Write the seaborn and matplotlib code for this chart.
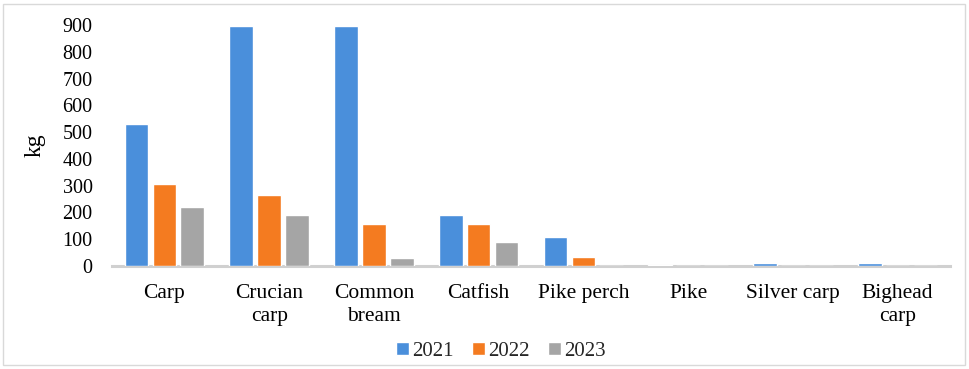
import matplotlib
matplotlib.use("Agg")
import matplotlib.pyplot as plt
import seaborn as sns
import pandas as pd
from matplotlib.patches import Rectangle

categories = ["Carp", "Crucian\ncarp", "Common\nbream", "Catfish", "Pike perch",
              "Pike", "Silver carp", "Bighead\ncarp"]
years = ["2021", "2022", "2023"]
values_2021 = [530, 895, 895, 190, 110, 3, 10, 10]
values_2022 = [305, 265, 155, 155, 35, 0, 0, 0]
values_2023 = [220, 190, 30, 90, 0, 0, 0, 0]
yticks = [0, 100, 200, 300, 400, 500, 600, 700, 800, 900]
colors = ["#4A8FDB", "#F47B20", "#A5A5A5"]

rows = []
for year, vals in zip(years, [values_2021, values_2022, values_2023]):
    for cat, v in zip(categories, vals):
        rows.append({"species": cat, "year": year, "kg": v})
df = pd.DataFrame(rows)

sns.set_theme(style="white")
plt.rcParams["font.family"] = ["Liberation Serif", "DejaVu Serif"]

fig = plt.figure(figsize=(9.70, 3.69), dpi=100)
ax = fig.add_axes([112 / 970, 1 - 266 / 369, (950 - 112) / 970, (266 - 25) / 369])

sns.barplot(data=df, x="species", y="kg", hue="year", order=categories,
            hue_order=years, palette=colors, width=0.8, gap=0.15,
            saturation=1, ax=ax, legend=True)

ax.set_ylim(0, 900)
ax.set_xlim(-0.5, len(categories) - 0.5)
ax.set_yticks(yticks)
ax.set_yticklabels([str(t) for t in yticks])
ax.tick_params(axis="y", length=0, pad=14, labelsize=14.5, labelcolor="black")
ax.tick_params(axis="x", length=0, pad=13, labelsize=15.5, labelcolor="black")
for lbl in ax.get_xticklabels():
    lbl.set_linespacing(1.3)
    lbl.set_verticalalignment("top")

for side in ["top", "right", "left"]:
    ax.spines[side].set_visible(False)
ax.spines["bottom"].set_color("#D0D0D0")
ax.spines["bottom"].set_linewidth(2.2)
ax.spines["bottom"].set_zorder(0.5)
ax.set_xlabel("")
ax.set_ylabel("kg", fontsize=17, color="black", labelpad=12)

leg = ax.legend(loc="center", bbox_to_anchor=(501 / 970, 1 - 351 / 369),
                bbox_transform=fig.transFigure, ncol=3, frameon=False,
                fontsize=15, handlelength=0.6, handleheight=0.6,
                handletextpad=0.15, columnspacing=0.9)

# thin frame around the whole figure
fig.patches.append(Rectangle((3 / 970, 4 / 369), 962 / 970, 361 / 369,
                             transform=fig.transFigure, fill=False,
                             edgecolor="#D9D9D9", linewidth=1.0))

fig.savefig("out.png", dpi=100)
